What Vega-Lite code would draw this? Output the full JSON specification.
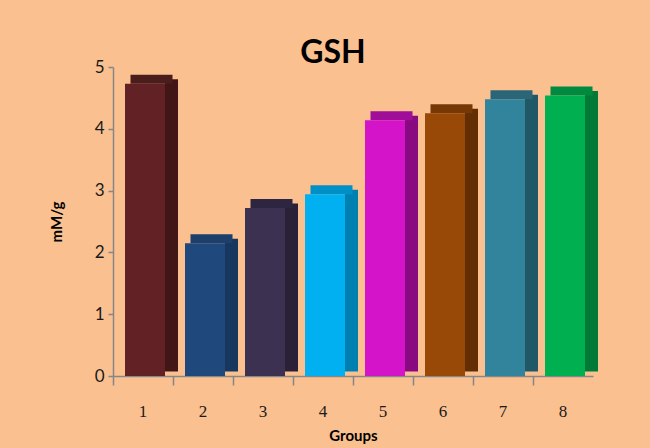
{
  "$schema": "https://vega.github.io/schema/vega-lite/v6.json",
  "autosize": {"type": "none"},
  "padding": {"left": 113, "top": 67, "right": 57, "bottom": 72},
  "width": 480,
  "height": 309,
  "background": "#FAC090",
  "title": {
    "text": "GSH",
    "font": "Lato",
    "fontSize": 32,
    "fontWeight": "bold",
    "color": "#000000",
    "anchor": "middle",
    "dx": -20,
    "offset": -12
  },
  "data": {
    "values": [
      {"group": "1", "value": 4.73},
      {"group": "2", "value": 2.15},
      {"group": "3", "value": 2.72},
      {"group": "4", "value": 2.94},
      {"group": "5", "value": 4.14},
      {"group": "6", "value": 4.25},
      {"group": "7", "value": 4.48},
      {"group": "8", "value": 4.54}
    ]
  },
  "config": {
    "view": {"stroke": null},
    "axis": {"domainColor": "#868686", "tickColor": "#868686", "grid": false}
  },
  "resolve": {"scale": {"color": "independent"}, "axis": {"x": "independent"}},
  "layer": [
    {
      "mark": {"type": "bar", "width": 13, "xOffset": 28.5, "yOffset": -4.5, "opacity": 1},
      "encoding": {
        "x": {"field": "group", "type": "nominal", "scale": {"paddingInner": 0, "paddingOuter": 0},
          "axis": {"orient": "bottom", "bandPosition": 0, "labels": false, "title": null, "tickSize": 9, "domainWidth": 1.5, "tickWidth": 1.5}},
        "y": {"field": "value", "type": "quantitative", "scale": {"domain": [0, 5], "nice": false},
          "axis": {"values": [0, 1, 2, 3, 4, 5], "format": "d", "tickSize": 5, "labelFont": "Lato", "labelFontSize": 17, "labelColor": "#1a1a1a", "labelPadding": 4,
            "title": "mM/g", "titleFont": "Lato", "titleFontSize": 15, "titleFontWeight": "bold", "titleColor": "#000000", "titlePadding": 30, "domainWidth": 1.5, "tickWidth": 1.5}},
        "color": {"field": "group", "type": "nominal", "legend": null,
          "scale": {"range": ["#421616", "#17375E", "#2A2138", "#0080B0", "#890A80", "#632E03", "#215867", "#007A36"]}}
      }
    },
    {
      "mark": {"type": "tick", "orient": "horizontal", "thickness": 9, "size": 42, "xOffset": 8.5, "yOffset": -4.5, "opacity": 1},
      "encoding": {
        "x": {"field": "group", "type": "nominal", "axis": null},
        "y": {"field": "value", "type": "quantitative"},
        "color": {"field": "group", "type": "nominal", "legend": null,
          "scale": {"range": ["#4A1C1C", "#1D3F6B", "#2E2540", "#0090C8", "#A00D98", "#773806", "#2A6678", "#008A40"]}}
      }
    },
    {
      "mark": {"type": "bar", "width": 40, "xOffset": 2, "opacity": 1},
      "encoding": {
        "x": {"field": "group", "type": "nominal",
          "axis": {"orient": "bottom", "ticks": false, "domain": false, "labelAngle": 0, "labelFont": "Liberation Serif", "labelFontSize": 17, "labelColor": "#1a1a1a", "labelPadding": 27,
            "title": "Groups", "titleFont": "Lato", "titleFontSize": 15, "titleFontWeight": "bold", "titleColor": "#000000", "titlePadding": 9}},
        "y": {"field": "value", "type": "quantitative"},
        "color": {"field": "group", "type": "nominal", "legend": null,
          "scale": {"range": ["#622124", "#1F497D", "#3D3151", "#00B0F0", "#D414C8", "#984807", "#31849B", "#00B050"]}}
      }
    }
  ]
}
